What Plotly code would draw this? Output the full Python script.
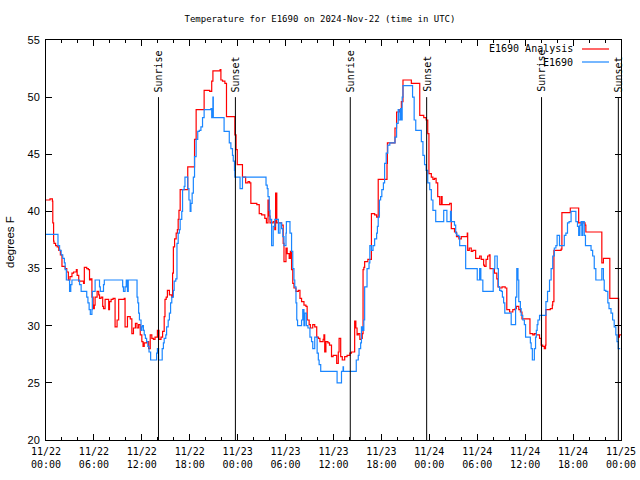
import pandas as pd
import plotly.graph_objects as go

START = "2024-11-22 00:00"
END = "2024-11-25 00:00"

# E1690 Analysis (red) : hours since 11/22 00:00 UTC, degrees F
red_hours = [
    0, 0.5, 0.8, 0.85, 0.95, 1.0, 1.2, 1.4, 1.6, 1.8,
    2.0, 2.4, 2.6, 2.8, 3.0, 3.25, 3.45, 3.8, 3.9, 4.1,
    4.7, 4.8, 5.1, 5.3, 5.45, 5.6, 5.75, 5.9, 6.05, 6.15,
    6.4, 6.6, 6.7, 6.9, 7.1, 7.2, 7.4, 7.85, 7.95, 8.15,
    8.4, 8.65, 8.9, 9.1, 9.5, 9.8, 9.9, 10.2, 10.55, 10.75,
    10.95, 11.2, 11.4, 11.6, 11.8, 12.0, 12.15, 12.3, 12.6, 12.85,
    13.05, 13.25, 13.45, 13.65, 13.95, 14.15, 14.4, 14.6, 14.8, 14.9,
    15.05, 15.2, 15.45, 15.75, 15.85, 15.95, 16.1, 16.3, 16.45, 16.55,
    16.65, 16.8, 17.75, 18.6, 18.8, 19.8, 20.5, 20.75, 20.9, 21.8,
    21.9, 22.1, 22.4, 22.6, 23.65, 23.8, 23.95, 24.6, 25.0, 25.3,
    25.5, 25.65, 26.4, 26.7, 27.0, 27.4, 27.6, 27.8, 27.95, 28.05,
    28.45, 28.65, 28.75, 28.9, 29.5, 29.7, 29.8, 30.05, 30.2, 30.45,
    30.6, 30.75, 30.9, 31.05, 31.3, 31.6, 31.8, 32.0, 32.3, 32.55,
    32.7, 32.95, 33.1, 33.4, 33.65, 33.9, 34.1, 34.3, 34.7, 34.8,
    34.9, 35.05, 35.3, 35.5, 35.75, 35.95, 36.4, 36.6, 36.7, 36.9,
    37.1, 37.4, 37.7, 38.05, 38.25, 38.65, 38.8, 38.95, 39.1, 39.3,
    39.5, 39.6, 39.7, 39.8, 39.9, 40.3, 40.75, 41.15, 41.4, 41.6,
    42.7, 42.75, 43.7, 43.9, 44.3, 44.5, 44.7, 45.75, 46.8, 47.3,
    47.6, 47.8, 47.95, 48.25, 48.45, 48.65, 48.85, 49.05, 49.3, 49.5,
    49.6, 50.55, 50.75, 51.15, 51.4, 51.7, 52.0, 52.75, 52.8, 53.0,
    53.25, 53.45, 53.8, 54.3, 54.5, 54.8, 54.9, 55.1, 55.3, 55.5,
    55.6, 56.15, 56.45, 56.6, 56.8, 57.1, 57.5, 57.7, 58.05, 58.45,
    58.75, 58.9, 59.2, 59.4, 59.6, 60.6, 60.95, 61.15, 61.4, 61.8,
    62.0, 62.2, 62.4, 62.55, 62.6, 63.15, 63.4, 63.45, 63.6, 64.5,
    64.6, 65.65, 66.7, 67.5, 67.6, 69.6, 69.8, 70.6, 71.7, 71.8,
    72.0,
]
red_temp = [
    41.0, 41.1, 40.9, 39.0, 37.4, 37.2, 37.0, 36.9, 36.6, 36.2,
    35.2, 35.0, 34.7, 34.0, 34.3, 34.6, 34.7, 34.9, 34.4, 33.9,
    33.7, 35.1, 35.0, 34.9, 34.0, 34.1, 32.5, 31.5, 31.8, 32.5,
    33.0, 32.7, 32.4, 32.5, 31.7, 31.5, 32.3, 31.4, 32.1, 32.3,
    32.4, 29.9, 30.5, 32.3, 32.3, 32.4, 29.9, 30.8, 30.6, 29.3,
    29.8, 30.2, 29.8, 30.1, 29.2, 28.6, 28.2, 28.5, 28.6, 28.0,
    29.2, 28.9, 28.8, 29.0, 29.6, 28.8, 29.0, 29.5, 30.8, 32.3,
    32.5, 33.1, 32.7, 32.5, 34.6, 36.9, 37.6, 38.1, 38.4, 39.3,
    40.1, 41.9, 43.9, 46.3, 48.9, 50.6, 50.5, 51.4, 52.3, 52.4,
    51.5, 51.4, 51.2, 48.3, 46.7, 45.4, 44.1, 43.0, 42.5, 42.6,
    42.5, 40.7, 40.6, 39.8, 39.7, 39.4, 39.0, 41.0, 39.6, 39.0,
    39.1, 38.4, 41.6, 39.0, 38.8, 37.2, 35.6, 36.8, 36.3, 35.9,
    36.5, 34.9, 33.7, 33.3, 33.0, 33.1, 32.4, 32.1, 31.8, 31.7,
    30.5, 30.1, 29.8, 30.1, 29.9, 29.0, 28.9, 28.6, 28.8, 29.2,
    27.7, 28.6, 28.5, 28.3, 27.3, 27.4, 26.7, 27.7, 28.9, 27.3,
    27.0, 27.3, 27.4, 27.6, 27.7, 30.4, 29.8, 29.2, 29.3, 28.8,
    28.9, 29.3, 34.9, 35.1, 35.6, 35.8, 39.8, 39.7, 39.5, 42.8,
    44.2, 46.0, 47.3, 48.7, 48.9, 49.6, 51.5, 51.2, 48.4, 48.2,
    48.0, 46.8, 43.3, 43.0, 42.8, 42.9, 42.5, 41.3, 40.6, 41.3,
    40.6, 40.7, 38.5, 38.2, 37.8, 37.6, 37.8, 38.1, 36.6, 36.8,
    36.5, 36.6, 35.9, 36.1, 35.8, 35.3, 35.2, 35.8, 36.1, 36.2,
    35.0, 34.6, 34.1, 33.4, 33.3, 33.4, 33.3, 31.4, 31.2, 31.4,
    31.5, 31.7, 31.4, 31.2, 30.6, 29.3, 29.2, 29.3, 29.2, 28.9,
    28.3, 28.2, 28.0, 28.3, 31.4, 31.5, 31.8, 32.1, 36.6, 36.7,
    39.9, 40.3, 39.0, 38.8, 38.2, 35.5, 35.9, 32.4, 29.0, 29.2,
    29.2,
]

# E1690 observed (blue)
blue_hours = [
    0, 1.5, 1.7, 1.9, 2.1, 2.3, 2.4, 2.55, 2.95, 3.1,
    3.25, 4.2, 4.4, 5.1, 5.25, 5.4, 5.55, 5.75, 5.8, 6.15,
    6.7, 6.8, 7.2, 7.3, 9.6, 9.7, 9.9, 10.05, 10.2, 10.3,
    11.4, 11.5, 11.6, 11.7, 11.9, 12.0, 12.1, 12.2, 12.3, 12.45,
    12.6, 12.75, 12.9, 13.1, 13.85, 13.95, 14.1, 14.55, 14.7, 14.8,
    15.0, 15.1, 15.3, 15.45, 15.6, 15.75, 15.95, 16.05, 16.25, 16.4,
    16.55, 16.7, 16.8, 17.0, 17.1, 17.3, 17.4, 17.75, 17.9, 18.05,
    18.15, 18.3, 18.45, 18.6, 18.8, 19.0, 19.2, 19.4, 19.6, 19.8,
    20.65, 20.75, 20.9, 20.95, 22.3, 22.95, 23.15, 23.35, 23.45, 23.6,
    23.65, 24.3, 24.6, 27.55, 27.7, 27.8, 27.95, 28.05, 28.25, 28.45,
    28.65, 29.1, 29.3, 29.5, 29.65, 29.8, 30.05, 30.1, 30.55, 30.75,
    30.9, 31.05, 31.15, 31.3, 31.4, 31.5, 32.0, 32.15, 32.3, 32.4,
    32.6, 32.8, 33.05, 33.25, 33.4, 33.65, 33.95, 34.1, 34.2, 34.4,
    36.45, 37.0, 37.2, 37.25, 38.85, 39.1, 39.2, 39.4, 39.5, 39.65,
    39.8, 39.9, 40.2, 40.45, 40.55, 40.75, 40.95, 41.15, 41.4, 41.5,
    41.6, 41.75, 41.9, 42.05, 42.25, 42.4, 42.6, 42.8, 43.05, 43.7,
    43.9, 44.1, 44.2, 44.4, 44.5, 44.6, 44.7, 45.9, 46.1, 46.3,
    47.0, 47.2, 47.4, 47.6, 47.8, 48.05, 48.25, 48.45, 48.8, 49.8,
    50.2, 50.65, 50.75, 51.15, 51.3, 51.45, 51.7, 51.8, 52.55, 54.0,
    54.3, 54.45, 54.7, 56.0, 56.2, 56.5, 56.65, 56.8, 57.0, 57.15,
    57.3, 57.45, 58.25, 58.8, 58.95, 59.1, 59.2, 59.4, 59.5, 59.7,
    59.9, 60.05, 60.65, 60.75, 60.9, 61.15, 61.3, 61.4, 61.5, 61.6,
    61.8, 62.6, 62.8, 63.05, 63.25, 63.45, 63.65, 63.85, 64.0, 64.3,
    64.9, 65.1, 65.3, 65.5, 65.75, 66.35, 66.55, 66.7, 66.85, 67.0,
    67.1, 67.2, 67.4, 67.55, 68.25, 68.45, 68.65, 68.85, 69.6, 69.8,
    69.9, 70.1, 70.35, 70.5, 70.75, 70.95, 71.15, 71.35, 71.5, 71.65,
    71.9,
]
blue_temp = [
    38.0, 37.0, 36.6, 36.2, 35.9, 35.5, 34.9, 34.0, 33.0, 33.6,
    34.0, 33.6, 33.0, 32.5, 32.0, 31.4, 31.0, 31.4, 33.0, 34.0,
    33.4, 33.0, 33.6, 34.0, 33.4, 33.0, 33.4, 34.0, 33.0, 34.0,
    32.5, 32.0, 31.1, 30.5, 29.6, 29.9, 30.0, 29.6, 29.2, 28.9,
    28.6, 28.2, 27.7, 27.0, 27.6, 28.0, 27.0, 28.0, 28.5, 28.9,
    29.2, 29.9, 30.5, 31.1, 32.0, 32.5, 33.1, 33.9, 34.1, 37.2,
    38.1, 38.4, 39.3, 40.0, 41.9, 42.2, 43.0, 42.0, 41.0, 40.0,
    40.7, 41.6, 43.0, 44.8, 46.3, 47.0, 47.1, 47.4, 48.2, 48.9,
    49.0, 48.2, 50.0, 48.2, 47.0, 46.0, 45.5, 44.9, 44.4, 43.6,
    43.0, 42.0, 43.0, 42.3, 42.0, 41.3, 40.1, 39.3, 37.0, 38.7,
    39.3, 38.1, 39.0, 38.5, 37.8, 37.0, 38.1, 39.1, 38.1, 36.5,
    35.0, 34.0, 33.4, 32.0, 30.5, 30.0, 30.5, 31.4, 30.0, 31.1,
    30.0, 29.8, 29.0, 28.6, 28.0, 29.0, 27.6, 27.0, 26.6, 26.0,
    25.0, 26.0, 26.4, 26.0, 27.0, 27.4, 28.0, 28.5, 29.9, 29.6,
    30.5, 33.4, 35.0, 35.5, 37.0, 36.6, 37.0, 37.6, 38.1, 38.7,
    39.5, 41.0, 41.3, 41.9, 42.5, 44.2, 45.1, 45.8, 46.0, 46.5,
    47.7, 48.9, 48.0, 49.0, 48.0, 50.0, 51.0, 50.0, 48.0, 47.1,
    46.1, 44.9, 44.1, 43.6, 42.5, 41.9, 41.0, 40.1, 39.1, 40.1,
    39.1, 40.0, 39.1, 38.8, 38.1, 37.9, 37.8, 37.0, 35.0, 34.0,
    35.0, 34.0, 33.0, 35.0, 36.1, 35.0, 33.4, 33.1, 33.0, 32.5,
    32.0, 31.1, 30.1, 32.5, 35.0, 34.0, 32.1, 31.5, 30.9, 30.5,
    30.1, 29.0, 28.5, 28.0, 27.0, 28.0, 29.0, 29.6, 30.1, 30.5,
    30.9, 32.1, 33.0, 34.0, 35.0, 36.1, 36.8, 37.0, 37.9, 37.0,
    37.9, 38.1, 39.0, 39.1, 40.0, 39.1, 38.7, 37.9, 38.8, 39.1,
    37.9, 39.1, 37.9, 37.0, 36.6, 36.1, 35.0, 34.0, 35.0, 34.0,
    33.1, 33.0, 32.0, 31.5, 31.1, 30.5, 29.9, 29.2, 28.6, 28.0,
    28.0,
]

sun_times = ["2024-11-22 14:05", "2024-11-22 23:43", "2024-11-23 14:06",
             "2024-11-23 23:40", "2024-11-24 14:03", "2024-11-24 23:40"]
sun_labels = ["Sunrise", "Sunset", "Sunrise", "Sunset", "Sunrise", "Sunset"]
sun_line_top = 50

t0 = pd.Timestamp(START)
red_t = [t0 + pd.Timedelta(hours=h) for h in red_hours]
blue_t = [t0 + pd.Timedelta(hours=h) for h in blue_hours]

MONO = "DejaVu Sans Mono"
SANS = "Liberation Sans"
RED = "#ff0000"
BLUE = "#1a86ff"

fig = go.Figure()
fig.add_trace(go.Scatter(x=red_t, y=red_temp, mode="lines", line_shape="hv",
                         line=dict(color=RED, width=1.2), name="E1690 Analysis",
                         showlegend=False))
fig.add_trace(go.Scatter(x=blue_t, y=blue_temp, mode="lines", line_shape="hv",
                         line=dict(color=BLUE, width=1.2), name="E1690",
                         showlegend=False))

for t, lab in zip(sun_times, sun_labels):
    fig.add_shape(type="line", xref="x", yref="y", x0=t, x1=t, y0=20, y1=sun_line_top,
                  line=dict(color="black", width=1))
    fig.add_annotation(x=t, y=sun_line_top, xref="x", yref="y", text=lab,
                       textangle=-90, showarrow=False, yanchor="bottom", yshift=3,
                       font=dict(family=MONO, size=10, color="black"))

# legend (drawn manually: text on the left, sample on the right)
W = 575.0
H = 400.0
def px(xp):
    return (xp - 46) / W
def py(yp):
    return (440 - yp) / H

for name, col, yp in [("E1690 Analysis", RED, 49), ("E1690", BLUE, 62)]:
    fig.add_shape(type="line", xref="paper", yref="paper", x0=px(582), x1=px(609),
                  y0=py(yp), y1=py(yp), line=dict(color=col, width=1.2))
    fig.add_annotation(xref="paper", yref="paper", x=px(575), y=py(yp), text=name,
                       showarrow=False, xanchor="right", yanchor="middle",
                       font=dict(family=MONO, size=10, color="black"))

fig.add_annotation(xref="paper", yref="paper", x=px(10), y=py(242), text="degrees F",
                   textangle=-90, showarrow=False, xanchor="center", yanchor="middle",
                   font=dict(family=SANS, size=11.5, color="black"))

fig.update_layout(
    width=640, height=480,
    margin=dict(l=46, r=19, t=40, b=40, autoexpand=False),
    paper_bgcolor="white", plot_bgcolor="white",
    title=dict(text="Temperature for E1690 on 2024-Nov-22 (time in UTC)",
               x=0.5, xref="container", xanchor="center",
               y=1 - 19 / 480, yref="container", yanchor="middle",
               font=dict(family=MONO, size=9, color="black")),
    showlegend=False,
)
fig.update_xaxes(
    type="date", range=[START, END], tick0=START, dtick=6 * 3600 * 1000,
    tickformat="%m/%d<br>%H:%M", ticks="inside", ticklen=6, tickcolor="black",
    showline=True, linecolor="black", linewidth=1, mirror="allticks",
    showgrid=False, zeroline=False, automargin=False, ticklabelstandoff=2,
    tickfont=dict(family=MONO, size=10, color="black"),
    minor=dict(tick0=START, dtick=2 * 3600 * 1000, ticks="inside", ticklen=3,
               tickcolor="black", showgrid=False),
)
fig.update_yaxes(
    range=[20, 55], dtick=5, tick0=20, ticks="inside", ticklen=6, tickcolor="black",
    showline=True, linecolor="black", linewidth=1, mirror="allticks",
    showgrid=False, zeroline=False, automargin=False, ticklabelstandoff=3,
    tickfont=dict(family=SANS, size=11, color="black"),
)

fig.write_html("out.html", config={"displayModeBar": False},
               post_script="document.body.style.margin='0';document.body.style.padding='0';")
